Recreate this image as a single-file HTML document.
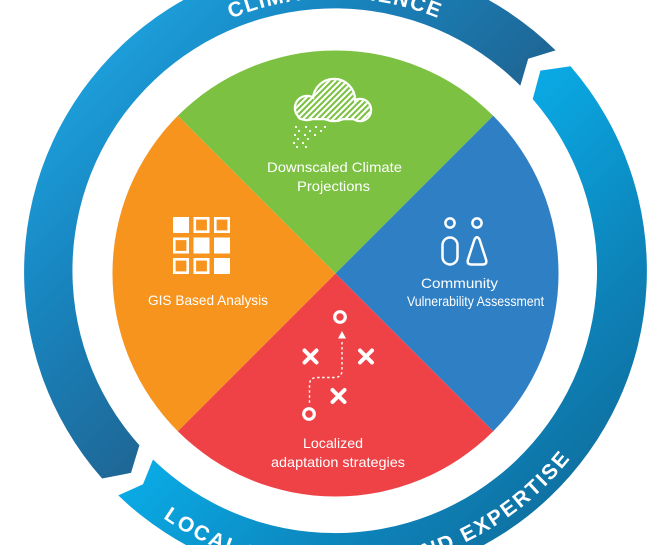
<!DOCTYPE html>
<html>
<head>
<meta charset="utf-8">
<style>
  html, body { margin: 0; padding: 0; background: #ffffff; }
  body { width: 655px; height: 545px; overflow: hidden; }
  svg { display: block; overflow: hidden; }
  .lbl { font-family: "Liberation Sans", sans-serif; font-size: 14px; fill: #ffffff; }
  .ring { font-family: "Liberation Sans", sans-serif; font-size: 21px; font-weight: bold; fill: #ffffff; }
</style>
</head>
<body>
<svg width="655" height="545" viewBox="0 0 655 545" xmlns="http://www.w3.org/2000/svg">
  <defs>
    <linearGradient id="gTop" gradientUnits="userSpaceOnUse" x1="50" y1="50" x2="300" y2="300">
      <stop offset="0" stop-color="#1ea7e3"/>
      <stop offset="0.45" stop-color="#1887c2"/>
      <stop offset="1" stop-color="#1e6796"/>
    </linearGradient>
    <linearGradient id="gBot" gradientUnits="userSpaceOnUse" x1="310" y1="310" x2="560" y2="560">
      <stop offset="0" stop-color="#0aa9e4"/>
      <stop offset="0.55" stop-color="#0d83b9"/>
      <stop offset="1" stop-color="#106a99"/>
    </linearGradient>
    <clipPath id="frame"><rect x="0" y="0" width="655" height="545"/></clipPath>
    <clipPath id="cloudClip">
      <circle cx="307" cy="108" r="11"/>
      <circle cx="334" cy="100" r="20"/>
      <circle cx="360" cy="110" r="10"/>
      <rect x="299" y="104" width="66" height="14" rx="3"/>
    </clipPath>
    <path id="arcTop" d="M 62 271 A 273 273 0 0 1 608 271"/>
    <path id="arcBot" d="M 34 271 A 301 301 0 0 0 636 271"/>
  </defs>

  <g clip-path="url(#frame)">
  <!-- Outer ring bands -->
  <path d="M 555.6 50.4 A 312 312 0 0 0 102.1 478.5 L 131.0 472.9 L 139.4 445.3 A 262 262 0 0 1 520.3 85.7 L 528.2 58.7 Z" fill="url(#gTop)"/>
  <path d="M 118.3 495.4 A 312 312 0 0 0 570.5 66.3 L 540.4 70.6 L 532.7 99.1 A 262 262 0 0 1 153.0 459.5 L 143.0 484.3 Z" fill="url(#gBot)"/>

  <text class="ring" letter-spacing="1.5"><textPath href="#arcTop" startOffset="50%" text-anchor="middle">CLIMATE SCIENCE</textPath></text>
  <text class="ring" letter-spacing="2.2"><textPath href="#arcBot" startOffset="54.7%" text-anchor="middle">LOCAL KNOWLEDGE AND EXPERTISE</textPath></text>
  </g>

  <!-- Pie quadrants: center (335.5,273.5) r=223 -->
  <path d="M 335.5 273.5 L 177.8 115.8 A 223 223 0 0 1 493.2 115.8 Z" fill="#7cc142"/>
  <path d="M 335.5 273.5 L 493.2 115.8 A 223 223 0 0 1 493.2 431.2 Z" fill="#2e7fc4"/>
  <path d="M 335.5 273.5 L 493.2 431.2 A 223 223 0 0 1 177.8 431.2 Z" fill="#ee4246"/>
  <path d="M 335.5 273.5 L 177.8 431.2 A 223 223 0 0 1 177.8 115.8 Z" fill="#f7941e"/>

  <!-- Cloud icon -->
  <g fill="none" stroke="#ffffff" stroke-width="4.5">
    <circle cx="307" cy="108" r="11"/>
    <circle cx="334" cy="100" r="20"/>
    <circle cx="360" cy="110" r="10"/>
    <rect x="299" y="104" width="66" height="14" rx="3"/>
  </g>
  <g fill="#7cc142">
    <circle cx="307" cy="108" r="11"/>
    <circle cx="334" cy="100" r="20"/>
    <circle cx="360" cy="110" r="10"/>
    <rect x="299" y="104" width="66" height="14" rx="3"/>
  </g>
  <g clip-path="url(#cloudClip)" stroke="#ffffff" stroke-width="2.2">
    <line x1="262" y1="130" x2="312" y2="80"/>
    <line x1="268" y1="130" x2="318" y2="80"/>
    <line x1="274" y1="130" x2="324" y2="80"/>
    <line x1="280" y1="130" x2="330" y2="80"/>
    <line x1="286" y1="130" x2="336" y2="80"/>
    <line x1="292" y1="130" x2="342" y2="80"/>
    <line x1="298" y1="130" x2="348" y2="80"/>
    <line x1="304" y1="130" x2="354" y2="80"/>
    <line x1="310" y1="130" x2="360" y2="80"/>
    <line x1="316" y1="130" x2="366" y2="80"/>
    <line x1="322" y1="130" x2="372" y2="80"/>
    <line x1="328" y1="130" x2="378" y2="80"/>
    <line x1="334" y1="130" x2="384" y2="80"/>
    <line x1="340" y1="130" x2="390" y2="80"/>
    <line x1="346" y1="130" x2="396" y2="80"/>
    <line x1="352" y1="130" x2="402" y2="80"/>
    <line x1="358" y1="130" x2="408" y2="80"/>
    <line x1="364" y1="130" x2="414" y2="80"/>
  </g>
  <g fill="#ffffff">
    <circle cx="296" cy="127" r="1.1"/><circle cx="306" cy="127" r="1.1"/><circle cx="316" cy="127" r="1.1"/><circle cx="325" cy="127" r="1.1"/>
    <circle cx="299" cy="131" r="1.1"/><circle cx="310" cy="131" r="1.1"/><circle cx="321" cy="131" r="1.1"/>
    <circle cx="295" cy="135" r="1.1"/><circle cx="305" cy="135" r="1.1"/><circle cx="315" cy="135" r="1.1"/>
    <circle cx="298" cy="139" r="1.1"/><circle cx="308" cy="139" r="1.1"/>
    <circle cx="294" cy="143" r="1.1"/><circle cx="303" cy="143" r="1.1"/>
    <circle cx="297" cy="147" r="1.1"/><circle cx="306" cy="147" r="1.1"/>
  </g>

  <!-- Grid icon -->
  <g fill="#ffffff">
    <rect x="173" y="217" width="16" height="16"/>
    <rect x="193.5" y="237.5" width="16" height="16"/>
    <rect x="214" y="237.5" width="16" height="16"/>
    <rect x="214" y="258" width="16" height="16"/>
  </g>
  <g fill="none" stroke="#ffffff" stroke-width="2.6">
    <rect x="194.8" y="218.3" width="13.4" height="13.4"/>
    <rect x="215.3" y="218.3" width="13.4" height="13.4"/>
    <rect x="174.3" y="238.8" width="13.4" height="13.4"/>
    <rect x="174.3" y="259.3" width="13.4" height="13.4"/>
    <rect x="194.8" y="259.3" width="13.4" height="13.4"/>
  </g>

  <!-- People icon -->
  <g fill="none" stroke="#ffffff" stroke-width="2.5" stroke-linejoin="round">
    <circle cx="450" cy="223" r="4.6"/>
    <circle cx="477" cy="223" r="4.6"/>
    <rect x="442.5" y="237.5" width="15" height="27" rx="7.5"/>
    <path d="M 474.5 239.5 Q 477 235 479.5 239.5 L 486 259.5 Q 487.5 264.5 482.5 264.5 L 471.5 264.5 Q 466.5 264.5 468 259.5 Z"/>
  </g>

  <!-- Strategy icon -->
  <g fill="none" stroke="#ffffff">
    <circle cx="340" cy="317" r="5.3" stroke-width="3.2"/>
    <circle cx="309" cy="414" r="5.3" stroke-width="3.2"/>
    <path d="M 342 342 L 342 370 Q 342 377.5 334.5 377.5 L 317 377.5 Q 309.5 377.5 309.5 385 L 309.5 405" stroke-width="1.4" stroke-dasharray="2.5 2.5"/>
    <g stroke-width="4" stroke-linecap="round">
      <line x1="304.5" y1="350.5" x2="316.5" y2="362.5"/><line x1="316.5" y1="350.5" x2="304.5" y2="362.5"/>
      <line x1="360" y1="350.5" x2="372" y2="362.5"/><line x1="372" y1="350.5" x2="360" y2="362.5"/>
      <line x1="332.5" y1="390" x2="344.5" y2="402"/><line x1="344.5" y1="390" x2="332.5" y2="402"/>
    </g>
  </g>
  <path d="M 342 331 L 346 338.5 L 338 338.5 Z" fill="#ffffff"/>

  <!-- Labels -->
  <text class="lbl" x="267" y="172" textLength="135" lengthAdjust="spacingAndGlyphs">Downscaled Climate</text>
  <text class="lbl" x="297" y="191" textLength="73" lengthAdjust="spacingAndGlyphs">Projections</text>
  <text class="lbl" x="148" y="305" textLength="120" lengthAdjust="spacingAndGlyphs">GIS Based Analysis</text>
  <text class="lbl" x="421" y="288" textLength="77" lengthAdjust="spacingAndGlyphs">Community</text>
  <text class="lbl" x="407" y="306" textLength="137" lengthAdjust="spacingAndGlyphs">Vulnerability Assessment</text>
  <text class="lbl" x="303" y="448" textLength="60" lengthAdjust="spacingAndGlyphs">Localized</text>
  <text class="lbl" x="271" y="467" textLength="134" lengthAdjust="spacingAndGlyphs">adaptation strategies</text>
</svg>
</body>
</html>
